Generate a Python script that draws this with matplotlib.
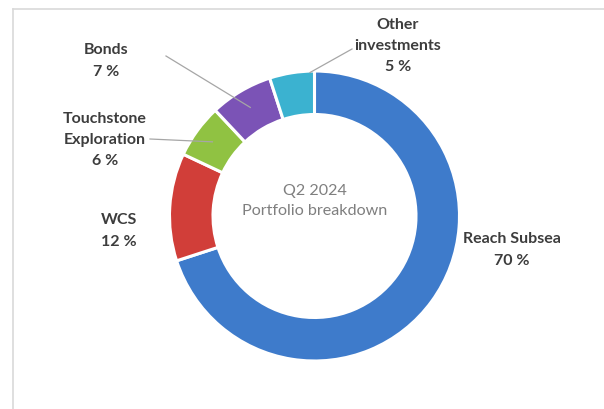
import numpy as np
import matplotlib
matplotlib.use("Agg")
import matplotlib.pyplot as plt
from matplotlib.lines import Line2D

# ---- data ----
categories = ["Reach Subsea", "WCS", "Touchstone\nExploration", "Bonds", "Other\ninvestments"]
shares = [70, 12, 6, 7, 5]
colors = ["#3E7BCB", "#D13E39", "#90C242", "#7B53B6", "#3BB2D0"]
center_title = "Q2 2024\nPortfolio breakdown"

plt.rcParams['font.family'] = ['Lato', 'DejaVu Sans']

W, H = 604, 410
fig = plt.figure(figsize=(W / 100, H / 100), dpi=100)
fig.patch.set_facecolor("white")

# frame lines (top and left)
fig.add_artist(Line2D([13 / W, 1], [1 - 10 / H, 1 - 10 / H], color="#d9d9d9", lw=1.2))
fig.add_artist(Line2D([13 / W, 13 / W], [0, 1 - 10 / H], color="#d9d9d9", lw=1.2))

cx, cy, R = 314.5, 217, 145
ax = fig.add_axes([(cx - R) / W, (H - cy - R) / H, 2 * R / W, 2 * R / H])

wedges, _ = ax.pie(shares, colors=colors, startangle=90, counterclock=False,
                   radius=1.0, wedgeprops=dict(width=0.30, edgecolor="white", linewidth=2.2))
ax.set_xlim(-1, 1)
ax.set_ylim(-1, 1)
ax.set_aspect("equal")
ax.axis("off")

def px(x, y):
    return ((x - cx) / R, (cy - y) / R)

lab_col = "#3d3d3d"
fs = 11.5
# labels
label_pos = {
    0: (512, 250),
    1: (119, 231),
    2: (105, 140),
    3: (106, 61),
    4: (398, 46),
}
for i, (x, y) in label_pos.items():
    tx, ty = px(x, y)
    ax.text(tx, ty, f"{categories[i]}\n{shares[i]} %", ha="center", va="center",
            fontsize=fs, fontweight="bold", color=lab_col, linespacing=1.65, clip_on=False)

# leader lines
def wedge_point(i, frac=0.5, r=0.87):
    w = wedges[i]
    ang = np.deg2rad(w.theta1 + frac * (w.theta2 - w.theta1))
    return (r * np.cos(ang), r * np.sin(ang))

leaders = [
    (3, (166, 57), 0.5, 0.87),
    (2, (150, 140), 0.5, 0.87),
    (4, (352, 50), 0.1, 0.99),
]
for i, start, frac, r in leaders:
    sx, sy = px(*start)
    ex, ey = wedge_point(i, frac, r)
    ax.plot([sx, ex], [sy, ey], color="#a6a6a6", lw=0.9, clip_on=False, zorder=5)

ax.text(0, px(0, 201)[1], center_title, ha="center", va="center", fontsize=11.6,
        color="#7f7f7f", linespacing=1.5)

fig.savefig("out.png", dpi=100, facecolor="white")
